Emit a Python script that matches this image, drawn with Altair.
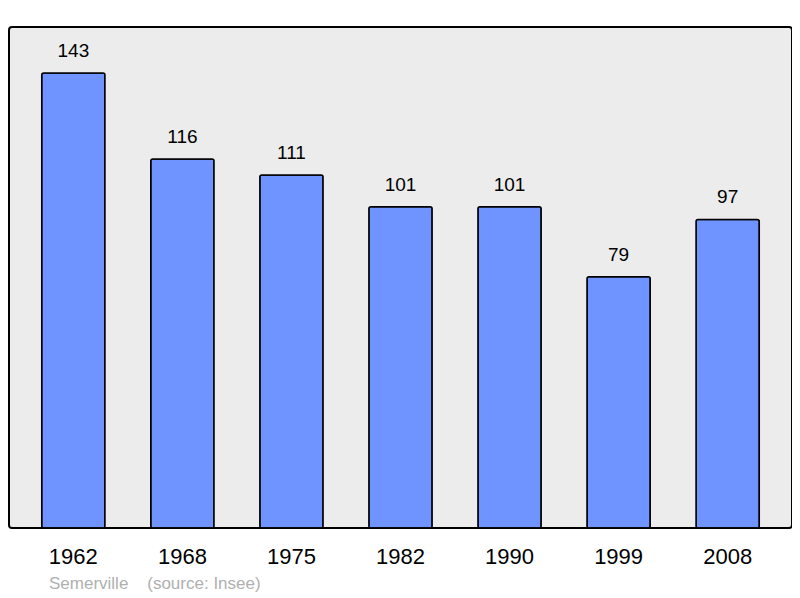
import altair as alt
import pandas as pd

years = ["1962", "1968", "1975", "1982", "1990", "1999", "2008"]
population = [143, 116, 111, 101, 101, 79, 97]
caption = "Semerville\u00a0\u00a0\u00a0\u00a0(source: Insee)"

df = pd.DataFrame({"year": years, "pop": population})

x = alt.X("year:N", sort=years,
          scale=alt.Scale(paddingInner=0.42, paddingOuter=0.3),
          axis=alt.Axis(title=None, labelAngle=0, labelFontSize=22, labelColor="black",
                        labelFont="Liberation Sans", ticks=False, domain=False,
                        labelPadding=18))
y = alt.Y("pop:Q", scale=alt.Scale(domain=[0, 157.5], nice=False, zero=True),
          axis=None)

bars = alt.Chart(df).mark_bar(color="#7094ff", stroke="black", strokeWidth=1.5,
                              cornerRadius=2).encode(x=x, y=y)
labels = alt.Chart(df).mark_text(baseline="bottom", dy=-12, fontSize=19,
                                 font="Liberation Sans", color="black").encode(
    x=x, y=y, text="pop:Q")

chart = alt.layer(bars, labels).properties(
    width=783, height=501,
    autosize=alt.AutoSizeParams(type="none"),
    padding={"left": 1, "top": 19, "right": 0, "bottom": 69},
    title=alt.TitleParams(caption, orient="bottom", anchor="start", offset=9,
                          fontSize=17, fontWeight="normal", color="#b0b0b0",
                          font="Liberation Sans", dx=40),
).configure_view(fill="#ececec", stroke="black", strokeWidth=2, cornerRadius=3)

chart.save("out.html", embed_options={"renderer": "svg", "actions": False})
